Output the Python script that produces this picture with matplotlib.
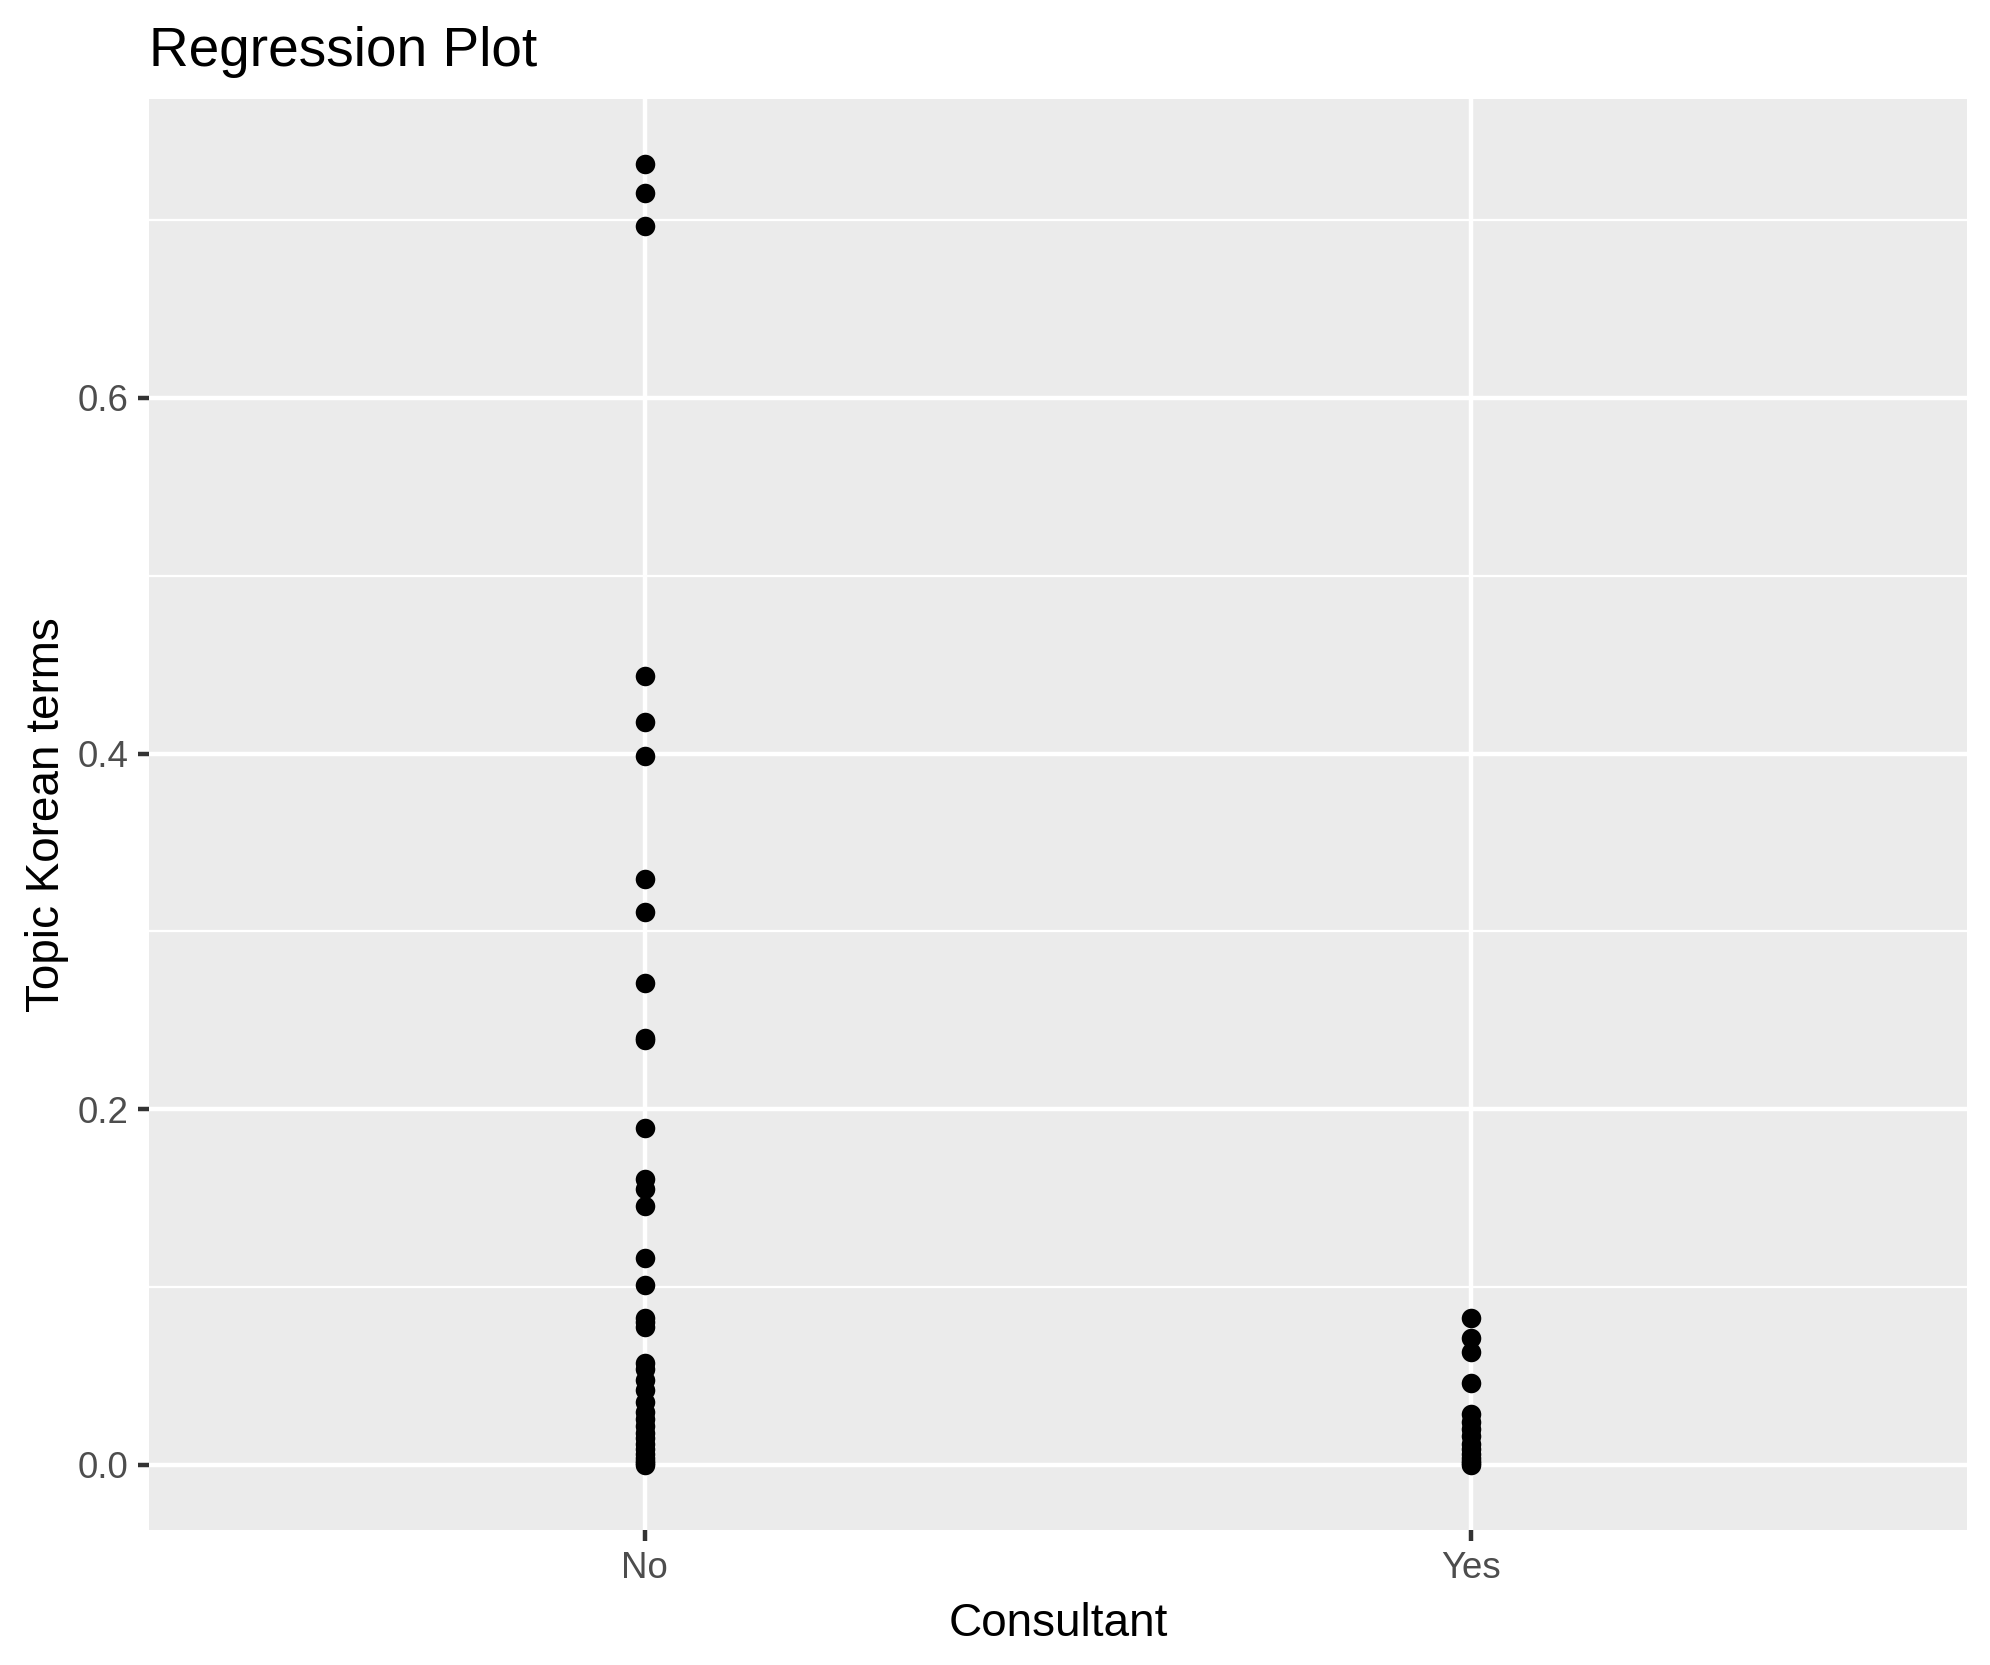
import matplotlib
matplotlib.use("Agg")
import matplotlib.pyplot as plt
from matplotlib.ticker import MultipleLocator

# data
categories = ["No", "Yes"]
no_values = [0.7315, 0.715, 0.6966, 0.4435, 0.418, 0.3985, 0.3294, 0.3109,
             0.2709, 0.2403, 0.2388, 0.1895, 0.161, 0.1549, 0.1455, 0.1161,
             0.1013, 0.0826, 0.0802, 0.0775, 0.0571, 0.054, 0.0478, 0.042,
             0.0356, 0.030, 0.026, 0.022, 0.018, 0.015, 0.012, 0.009, 0.006,
             0.004, 0.002, 0.001, 0.0]
yes_values = [0.0828, 0.0712, 0.0637, 0.0459, 0.0285, 0.024, 0.020, 0.016,
              0.012, 0.009, 0.006, 0.004, 0.002, 0.001, 0.0]
y_ticks = [0.0, 0.2, 0.4, 0.6]

plt.rcParams['font.family'] = ['Liberation Sans', 'DejaVu Sans']

fig = plt.figure(figsize=(1990 / 300, 1665 / 300), dpi=300)
ax = fig.add_axes([149 / 1990, 1 - 1530 / 1665, (1967 - 149) / 1990, (1530 - 99) / 1665])
ax.set_facecolor('#EBEBEB')

ax.set_xlim(0.4, 2.6)
ymax = max(no_values + yes_values)
ax.set_ylim(-0.05 * ymax, 1.05 * ymax)

ax.set_yticks(y_ticks)
ax.set_yticklabels(["%.1f" % v for v in y_ticks])
ax.yaxis.set_minor_locator(MultipleLocator(0.1))
ax.set_xticks([1, 2])
ax.set_xticklabels(categories)

ax.grid(which='major', color='white', linewidth=1.07)
ax.grid(which='minor', axis='y', color='white', linewidth=0.53)
ax.set_axisbelow(True)
for s in ax.spines.values():
    s.set_visible(False)

ax.tick_params(axis='both', which='major', length=2.75, width=1.07, color='#333333',
               labelsize=8.8, labelcolor='#4D4D4D', pad=2.2)
ax.tick_params(axis='both', which='minor', length=0)

ax.scatter([1] * len(no_values), no_values, s=22, color='black', linewidths=0, zorder=3)
ax.scatter([2] * len(yes_values), yes_values, s=22, color='black', linewidths=0, zorder=3)

ax.set_xlabel("Consultant", fontsize=11, labelpad=4)
ax.set_ylabel("Topic Korean terms", fontsize=11, labelpad=2)
ax.set_title("Regression Plot", fontsize=13.2, loc='left', pad=8)

fig.savefig("out.png", dpi=300)
